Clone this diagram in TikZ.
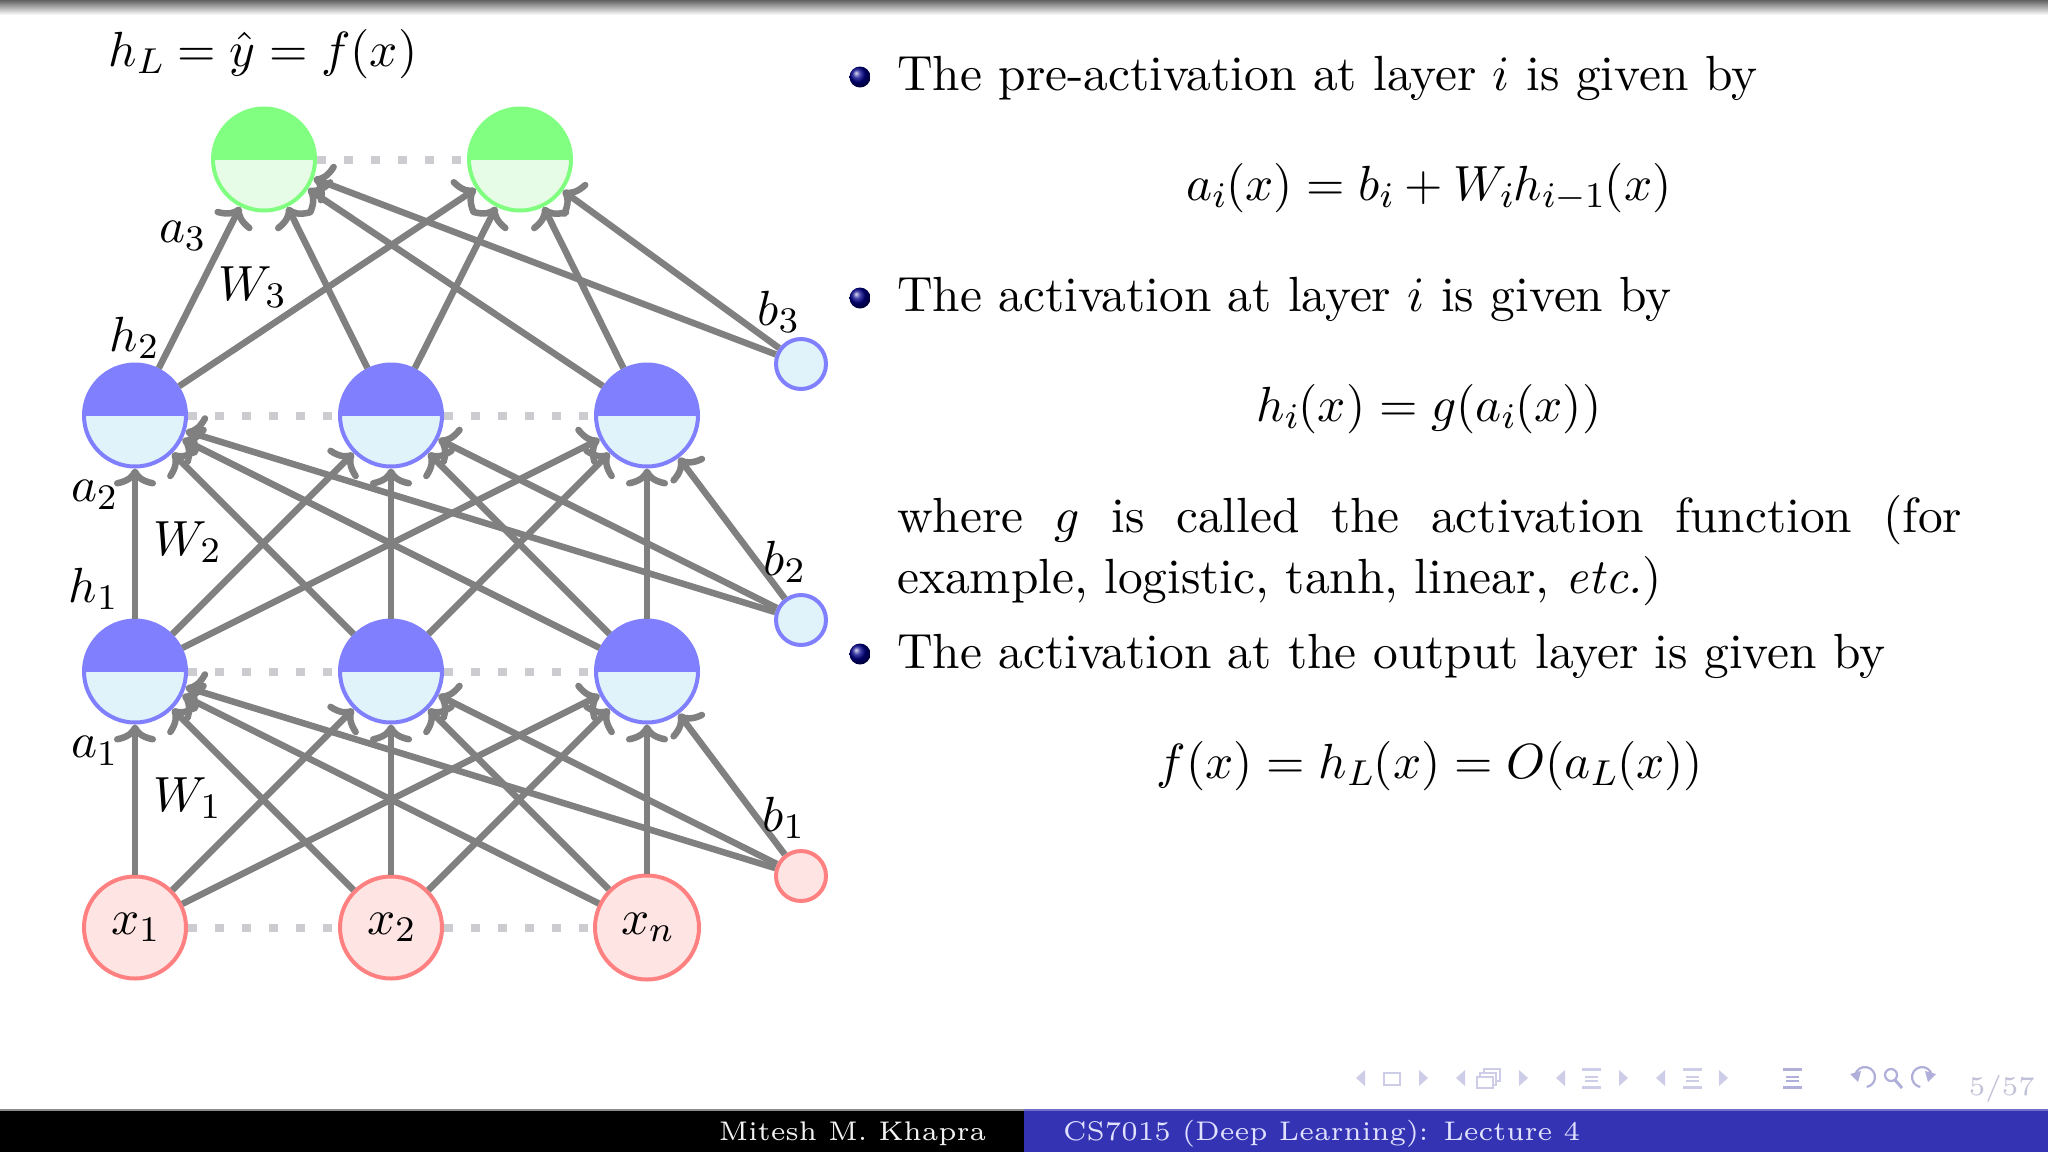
\documentclass[tikz,border=0pt]{standalone}
\usepackage{amsmath}
\usetikzlibrary{arrows.meta,shadings}
\DeclareFontFamily{TU}{lmr}{}
\DeclareFontShape{TU}{lmr}{m}{n}{<-35>"[lmroman6-regular]:mapping=tex-text"<35->"[lmroman10-regular]:mapping=tex-text"}{}
\DeclareFontShape{TU}{lmr}{m}{it}{<->"[lmroman10-italic]:mapping=tex-text"}{}
\DeclareFontFamily{OML}{cmm}{\skewchar\font=127 }
\DeclareFontShape{OML}{cmm}{m}{it}{<-26>cmmi6<26-42>cmmi8<42->cmmi10}{}
\DeclareFontFamily{OT1}{cmr}{\hyphenchar\font=45 }
\DeclareFontShape{OT1}{cmr}{m}{n}{<-26>cmr6<26-42>cmr8<42->cmr10}{}
\DeclareFontFamily{OMS}{cmsy}{\skewchar\font=48 }
\DeclareFontShape{OMS}{cmsy}{m}{n}{<-26>cmsy6<26-42>cmsy8<42->cmsy10}{}
\DeclareMathSizes{49.4}{49.4}{36}{27}
\definecolor{edgegray}{RGB}{128,128,128}
\definecolor{dotgray}{RGB}{204,204,208}
\definecolor{bluetop}{RGB}{128,128,255}
\definecolor{bluelow}{RGB}{224,242,250}
\definecolor{greentop}{RGB}{128,255,128}
\definecolor{greenlow}{RGB}{230,252,230}
\definecolor{redline}{RGB}{255,128,128}
\definecolor{redlow}{RGB}{255,228,228}
\definecolor{footblue}{RGB}{51,51,179}
\definecolor{navcol}{RGB}{205,205,232}
\definecolor{navdark}{RGB}{175,175,218}
\tikzset{
  x=1pt,y=-1pt,
  neuron/.style={circle,minimum size=102pt,inner sep=0pt,line width=4pt},
  halfneuron/.style 2 args={neuron,draw=#1,fill=#2,path picture={\fill[#1] (path picture bounding box.west) rectangle (path picture bounding box.north east);}},
  bluen/.style={halfneuron={bluetop}{bluelow}},
  greenn/.style={halfneuron={greentop}{greenlow}},
  inputn/.style={neuron,draw=redline,fill=redlow},
  biasblue/.style={circle,minimum size=50pt,inner sep=0pt,line width=4pt,draw=bluetop,fill=bluelow},
  biasred/.style={circle,minimum size=50pt,inner sep=0pt,line width=4pt,draw=redline,fill=redlow},
  conn/.style={line width=6.5pt,draw=edgegray,-{Computer Modern Rightarrow[length=18pt,width=42pt]}},
  dotline/.style={line width=8pt,draw=dotgray,dash pattern=on 9pt off 18pt},
  lab/.style={font=\fontsize{49.4}{61}\selectfont,inner sep=0pt},
  body/.style={anchor=base west,font=\fontsize{49.4}{61}\selectfont,inner sep=0pt},
  eqn/.style={font=\fontsize{49.4}{61}\selectfont,inner sep=0pt},
  ballb/.style={circle,minimum size=21pt,inner sep=0pt,ball color=blue!55!black},
  foot/.style={font=\fontsize{27}{34}\selectfont,inner sep=0pt},
  navfill/.style={fill=navcol,draw=none},
  navline/.style={draw=navcol,line width=2.5pt},
}
\newcommand{\navL}[2]{\fill[navfill] (#1+9,#2-8) -- (#1,#2) -- (#1+9,#2+8) -- cycle;}
\newcommand{\navR}[2]{\fill[navfill] (#1,#2-8) -- (#1+9,#2) -- (#1,#2+8) -- cycle;}
\newcommand{\navS}[3]{%
  \fill[#3] (#1,#2) rectangle (#1+19,#2+3);
  \fill[#3] (#1+3,#2+8) rectangle (#1+16,#2+10);
  \fill[#3] (#1+3,#2+12) rectangle (#1+16,#2+14);
  \fill[#3] (#1,#2+18) rectangle (#1+19,#2+21);}
\begin{document}
\begin{tikzpicture}
\useasboundingbox (0,0) rectangle (2048,1152);
\fill[white] (0,0) rectangle (2048,1152);
\shade[top color=black!62,bottom color=white] (0,0) rectangle (2048,15);
% footer
\fill[black] (0,1110) rectangle (1024,1152);
\fill[footblue] (1024,1110) rectangle (2048,1152);
\fill[black!45] (0,1109) rectangle (1024,1110.5);
\fill[footblue!70] (1024,1109) rectangle (2048,1110.5);
\node[foot,text=white!95!black,anchor=base] (author) at (852.5,1140) {Mitesh M. Khapra};
\node[foot,text=white!88!blue,anchor=base west] (course) at (1063,1140) {CS7015 (Deep Learning): Lecture 4};
% nodes
\node[inputn] (x1) at (135,927.5) {\fontsize{49.4}{61}\selectfont$x_1$};
\node[inputn] (x2) at (391,927.5) {\fontsize{49.4}{61}\selectfont$x_2$};
\node[inputn,minimum size=104pt] (xn) at (647,927.5) {\fontsize{49.4}{61}\selectfont$x_n$};
\node[bluen] (a1) at (135,671.5) {};
\node[bluen] (a2) at (391,671.5) {};
\node[bluen] (a3) at (647,671.5) {};
\node[bluen] (c1) at (135,415.5) {};
\node[bluen] (c2) at (391,415.5) {};
\node[bluen] (c3) at (647,415.5) {};
\node[greenn] (o1) at (264,159.5) {};
\node[greenn] (o2) at (520,159.5) {};
\node[biasred] (b1) at (801,876) {};
\node[biasblue] (b2) at (801,620) {};
\node[biasblue] (b3) at (801,364) {};
% dotted rows
\draw[dotline] (x1) -- (x2); \draw[dotline] (x2) -- (xn);
\draw[dotline] (a1) -- (a2); \draw[dotline] (a2) -- (a3);
\draw[dotline] (c1) -- (c2); \draw[dotline] (c2) -- (c3);
\draw[dotline] (o1) -- (o2);
% connectors
\foreach \s in {x1,x2,xn,b1} \foreach \t in {a1,a2,a3} \draw[conn] (\s) -- (\t);
\foreach \s in {a1,a2,a3,b2} \foreach \t in {c1,c2,c3} \draw[conn] (\s) -- (\t);
\foreach \s in {c1,c2,c3,b3} \foreach \t in {o1,o2} \draw[conn] (\s) -- (\t);
% labels
\node[lab] (top) at (263,54) {$h_L=\hat{y}=f(x)$};
\node[lab] (la3) at (182,236) {$a_3$};
\node[lab] (lw3) at (252,287) {$W_3$};
\node[lab] (lh2) at (134,338) {$h_2$};
\node[lab] (lb3) at (778,312) {$b_3$};
\node[lab] (la2) at (94,495) {$a_2$};
\node[lab] (lw2) at (187,542) {$W_2$};
\node[lab] (lh1) at (93,589) {$h_1$};
\node[lab] (lb2) at (784,562) {$b_2$};
\node[lab] (la1) at (94,751) {$a_1$};
\node[lab] (lw1) at (187,798) {$W_1$};
\node[lab] (lb1) at (783,818) {$b_1$};
% text
\node[ballb] (d1) at (860,77) {};
\node[ballb] (d2) at (860,298) {};
\node[ballb] (d3) at (860,654) {};
\node[body] (t1) at (897,90) {The pre-activation at layer $i$ is given by};
\node[eqn] (e1) at (1429,188) {$a_i(x)=b_i+W_ih_{i-1}(x)$};
\node[body] (t2) at (897,311) {The activation at layer $i$ is given by};
\node[eqn] (e2) at (1429,409) {$h_i(x)=g(a_i(x))$};
\node[body,anchor=north west,text width=1065pt,align=justify] (t3) at (897,495) {where $g$ is called the activation function (for \mbox{example,} logistic, tanh, linear, \emph{etc.})};
\node[body] (t4) at (897,668) {The activation at the output layer is given by};
\node[eqn] (e3) at (1430,766) {$f(x)=h_L(x)=O(a_L(x))$};
% navigation symbols
\navL{1356}{1078} \draw[navline] (1384,1073) rectangle (1400,1085); \navR{1419}{1078}
\navL{1456}{1078}
\draw[navline] (1484,1069) rectangle (1500,1081);
\draw[navline,fill=white] (1480,1073) rectangle (1496,1085);
\draw[navline,fill=white] (1477,1077) rectangle (1493,1088);
\navR{1519}{1078}
\navL{1556}{1078} \navS{1582}{1068}{navcol} \navR{1619}{1078}
\navL{1656}{1078} \navS{1683}{1068}{navcol} \navR{1719}{1078}
\navS{1783}{1068}{navdark}
\draw[navdark,line width=2.2pt] (1855.15,1075.3) arc[start angle=190,end angle=440,radius=10];
\fill[navdark] (1850,1074) -- (1861,1071) -- (1858,1082) -- cycle;
\draw[navdark,line width=2.2pt] (1891,1075) circle[radius=6];
\draw[navdark,line width=3pt] (1895,1080) -- (1902,1088);
\draw[navdark,line width=2.2pt] (1931.85,1075.3) arc[start angle=-10,end angle=-260,radius=10];
\fill[navdark] (1936,1074) -- (1925,1071) -- (1928,1082) -- cycle;
\node[foot,text=navcol!85!gray,anchor=base east] (pg) at (2035,1095) {5/57};
\end{tikzpicture}
\end{document}
